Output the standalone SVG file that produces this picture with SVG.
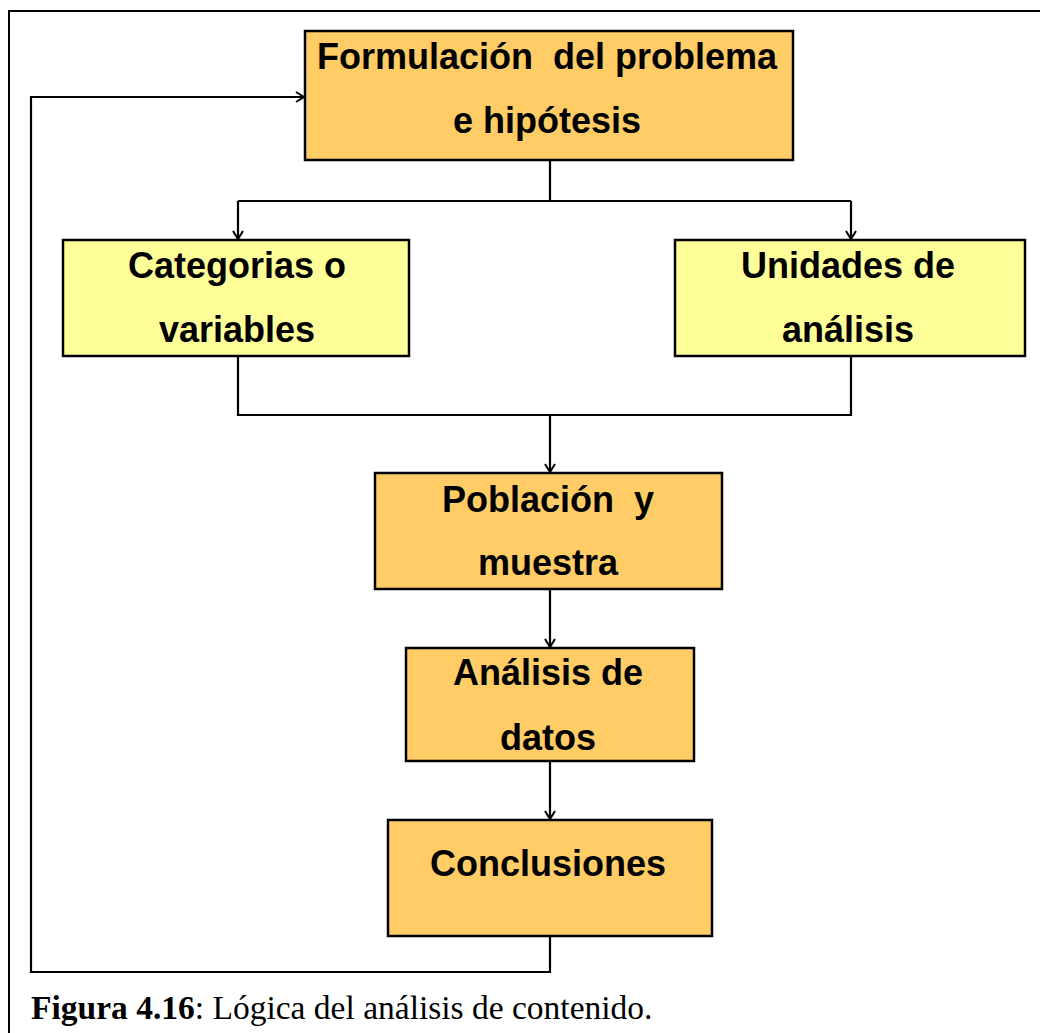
<svg xmlns="http://www.w3.org/2000/svg" width="1040" height="1033" viewBox="0 0 1040 1033">
<style>
.box{stroke:#000;stroke-width:2.5}
.orange{fill:#FFCC66}
.yellow{fill:#FFFF99}
.t{font-family:"Liberation Sans",Arial,sans-serif;font-weight:bold;font-size:36px;fill:#000;text-anchor:middle;white-space:pre}
.c{fill:none;stroke:#000;stroke-width:2.2}
.cap{font-family:"Liberation Serif","Times New Roman",serif;font-size:33.5px;fill:#000}
</style>
<defs>
<marker id="arr" markerUnits="userSpaceOnUse" markerWidth="14" markerHeight="14" refX="10" refY="6" orient="auto">
<path d="M2,1 L10,6 L2,11" fill="none" stroke="#000" stroke-width="2"/>
</marker>
</defs>
<rect x="0" y="0" width="1040" height="1033" fill="#fff"/>
<path d="M1040,11 H9 V1033" fill="none" stroke="#000" stroke-width="2"/>
<g id="connectors">
<path class="c" d="M550,160 V201"/>
<path class="c" d="M238,201 H851"/>
<path class="c" d="M238,201 V239" marker-end="url(#arr)"/>
<path class="c" d="M851,201 V239" marker-end="url(#arr)"/>
<path class="c" d="M238,356 V415 H851 V356"/>
<path class="c" d="M550,415 V472" marker-end="url(#arr)"/>
<path class="c" d="M550,589 V647" marker-end="url(#arr)"/>
<path class="c" d="M550,761 V819" marker-end="url(#arr)"/>
<path class="c" d="M550,936 V972 H31 V97 H304" marker-end="url(#arr)"/>
</g>
<g id="formulacion">
<rect class="box orange" x="305" y="31" width="488" height="129"/>
<text class="t" x="547" y="69" xml:space="preserve">Formulación  del problema</text>
<text class="t" x="547" y="133">e hipótesis</text>
</g>
<g id="categorias">
<rect class="box yellow" x="63" y="240" width="346" height="116"/>
<text class="t" x="237" y="278">Categorias o</text>
<text class="t" x="237" y="342">variables</text>
</g>
<g id="unidades">
<rect class="box yellow" x="675" y="240" width="350" height="116"/>
<text class="t" x="848" y="278">Unidades de</text>
<text class="t" x="848" y="342">análisis</text>
</g>
<g id="poblacion">
<rect class="box orange" x="375" y="473" width="347" height="116"/>
<text class="t" x="548" y="512" xml:space="preserve">Población  y</text>
<text class="t" x="548" y="575">muestra</text>
</g>
<g id="analisis">
<rect class="box orange" x="406" y="648" width="288" height="113"/>
<text class="t" x="548" y="685">Análisis de</text>
<text class="t" x="548" y="750">datos</text>
</g>
<g id="conclusiones">
<rect class="box orange" x="388" y="820" width="324" height="116"/>
<text class="t" x="548" y="876">Conclusiones</text>
</g>
<text class="cap" x="31" y="1019"><tspan font-weight="bold">Figura 4.16</tspan>: Lógica del análisis de contenido.</text>
</svg>
